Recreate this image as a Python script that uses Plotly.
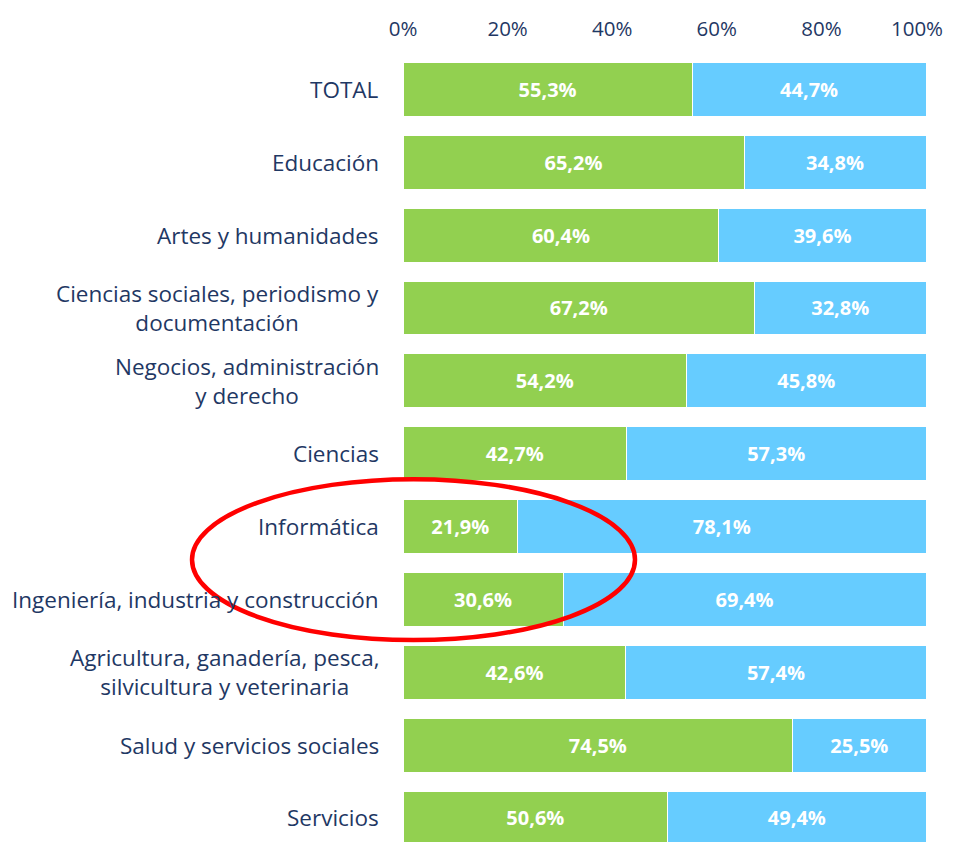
import plotly.graph_objects as go

categories = ["TOTAL", "Educación", "Artes y humanidades",
              "Ciencias sociales, periodismo y<br>documentación",
              "Negocios, administración<br>y derecho", "Ciencias", "Informática",
              "Ingeniería, industria y construcción",
              "Agricultura, ganadería, pesca,<br>silvicultura y veterinaria",
              "Salud y servicios sociales", "Servicios"]
mujeres = [55.3, 65.2, 60.4, 67.2, 54.2, 42.7, 21.9, 30.6, 42.6, 74.5, 50.6]
hombres = [44.7, 34.8, 39.6, 32.8, 45.8, 57.3, 78.1, 69.4, 57.4, 25.5, 49.4]
tick_vals = [0, 20, 40, 60, 80]
tick_text = ["0%", "20%", "40%", "60%", "80%"]
last_tick_val = [100]
last_tick_text = ["100%"]

FONT = "Open Sans"
TXT = "#1F3864"

def fmt(v):
    return f"{v:.1f}%".replace(".", ",")

ypos = list(range(len(categories)))

fig = go.Figure()
fig.add_trace(go.Bar(y=ypos, x=mujeres, orientation="h", marker=dict(color="#92D050", line=dict(color="white", width=1)),
                     text=[fmt(v) for v in mujeres], textposition="inside", insidetextanchor="middle",
                     textfont=dict(color="white", size=20, family=FONT, weight="bold"), name="Mujeres"))
fig.add_trace(go.Bar(y=ypos, x=hombres, orientation="h", marker=dict(color="#66CCFF", line=dict(color="white", width=1)),
                     text=[fmt(v) for v in hombres], textposition="inside", insidetextanchor="middle",
                     textfont=dict(color="white", size=20, family=FONT, weight="bold"), name="Hombres"))
fig.add_trace(go.Scatter(x=[None], y=[None], xaxis="x2", mode="markers", showlegend=False, hoverinfo="skip"))

for i, c in enumerate(categories):
    fig.add_annotation(x=0, xref="paper", y=i, yref="y", text=c, showarrow=False,
                       xanchor="right", align="center", xshift=-22,
                       font=dict(family=FONT, size=22.5, color=TXT))

fig.add_shape(type="circle", xref="paper", yref="paper",
              x0=-0.4034, x1=0.4436, y0=0.2559, y1=0.4598,
              line=dict(color="#FF0000", width=4.5))

fig.update_layout(
    width=946, height=834, barmode="stack", bargap=0.26,
    margin=dict(l=395, r=28, t=44.5, b=0),
    plot_bgcolor="white", paper_bgcolor="white", showlegend=False,
    font=dict(family=FONT, color=TXT, size=20),
    uniformtext=dict(minsize=20, mode="show"),
    xaxis=dict(side="top", range=[0, 100], tickvals=tick_vals, ticktext=tick_text,
               showgrid=False, zeroline=False, showline=False, ticklabelstandoff=12,
               tickfont=dict(family=FONT, size=20.5, color=TXT), fixedrange=True),
    xaxis2=dict(overlaying="x", side="top", range=[0, 100], tickvals=last_tick_val, ticktext=last_tick_text,
                showgrid=False, zeroline=False, showline=False, ticklabelstandoff=12, ticklabelshift=-9,
                tickfont=dict(family=FONT, size=20.5, color=TXT), fixedrange=True),
    yaxis=dict(range=[10.33, -0.5], showticklabels=False, showgrid=False, zeroline=False,
               showline=False, fixedrange=True),
)

fig.write_html("out.html")
